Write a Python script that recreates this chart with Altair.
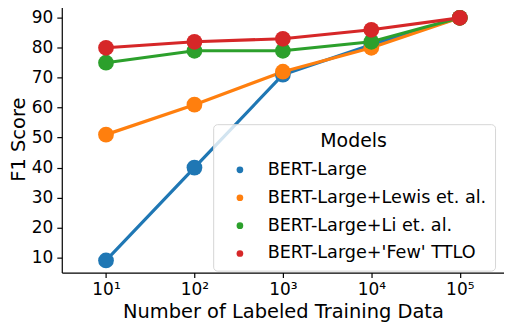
import altair as alt
import pandas as pd

models = ["BERT-Large", "BERT-Large+Lewis et. al.", "BERT-Large+Li et. al.", "BERT-Large+'Few' TTLO"]
colors = ["#1f77b4", "#ff7f0e", "#2ca02c", "#d62728"]
n_labeled = [10, 100, 1000, 10000, 100000]
bert_large = [9, 40, 71, 81, 90]
bert_lewis = [51, 61, 72, 80, 90]
bert_li = [75, 79, 79, 82, 90]
bert_ttlo = [80, 82, 83, 86, 90]
y_ticks = [10, 20, 30, 40, 50, 60, 70, 80, 90]

series = [bert_large, bert_lewis, bert_li, bert_ttlo]
rows = []
for i, (m, vals) in enumerate(zip(models, series)):
    for n, v in zip(n_labeled, vals):
        rows.append({"Model": m, "N": n, "F1": v, "order": i})
df = pd.DataFrame(rows)

FONT = "DejaVu Sans"

x = alt.X(
    "N:Q",
    scale=alt.Scale(type="log", domain=[10 ** 0.5, 10 ** 5.5], nice=False),
    axis=alt.Axis(
        title="Number of Labeled Training Data",
        values=n_labeled,
        labelExpr="'10' + ({'10':'¹','100':'²','1000':'³','10000':'⁴','100000':'⁵'})[toString(datum.value)]",
        grid=False,
        labelFlush=False,
    ),
)
y = alt.Y(
    "F1:Q",
    scale=alt.Scale(domain=[4.95, 94.05], nice=False, zero=False),
    axis=alt.Axis(title="F1 Score", values=y_ticks, grid=False),
)

lines = alt.Chart(df).mark_line(strokeWidth=3.2).encode(
    x=x, y=y,
    color=alt.Color("Model:N", scale=alt.Scale(domain=models, range=colors), legend=None),
    detail="Model:N",
)
points = alt.Chart(df).mark_circle(size=250, opacity=1).encode(
    x=x, y=y,
    color=alt.Color(
        "Model:N",
        scale=alt.Scale(domain=models, range=colors),
        sort=models,
        legend=alt.Legend(
            title="Models",
            orient="none",
            legendX=152,
            legendY=119,
            titleAnchor="middle",
            titleFontSize=19,
            titleFont=FONT,
            titleFontWeight="normal",
            titleColor="black",
            titlePadding=10,
            labelFontSize=17.7,
            labelFont=FONT,
            labelColor="black",
            labelOffset=19,
            symbolType="circle",
            symbolSize=45,
            symbolOffset=10,
            symbolStrokeWidth=0,
            rowPadding=9,
            padding=8,
            fillColor="rgba(255,255,255,0.8)",
            strokeColor="#d6d6d6",
            cornerRadius=4,
            labelLimit=400,
        ),
    ),
    order="order:Q",
)

chart = (
    alt.layer(lines, points)
    .resolve_legend(color="independent")
    .properties(
        width=444,
        height=268,
        autosize=alt.AutoSizeParams(type="none"),
        padding={"left": 54, "top": -3, "right": 0, "bottom": 60},
    )
    .configure_view(stroke=None)
    .configure_axis(
        labelFont=FONT,
        titleFont=FONT,
        labelFontSize=17,
        titleFontSize=19.5,
        titleFontWeight="normal",
        labelColor="black",
        titleColor="black",
        domainColor="black",
        tickColor="black",
        domainWidth=1.2,
        tickWidth=1.2,
        tickSize=5,
        labelPadding=4,
    )
    .configure_axisX(titlePadding=5)
    .configure_axisY(titlePadding=3)
)

chart.save("out.html", embed_options={"renderer": "svg", "actions": False})
